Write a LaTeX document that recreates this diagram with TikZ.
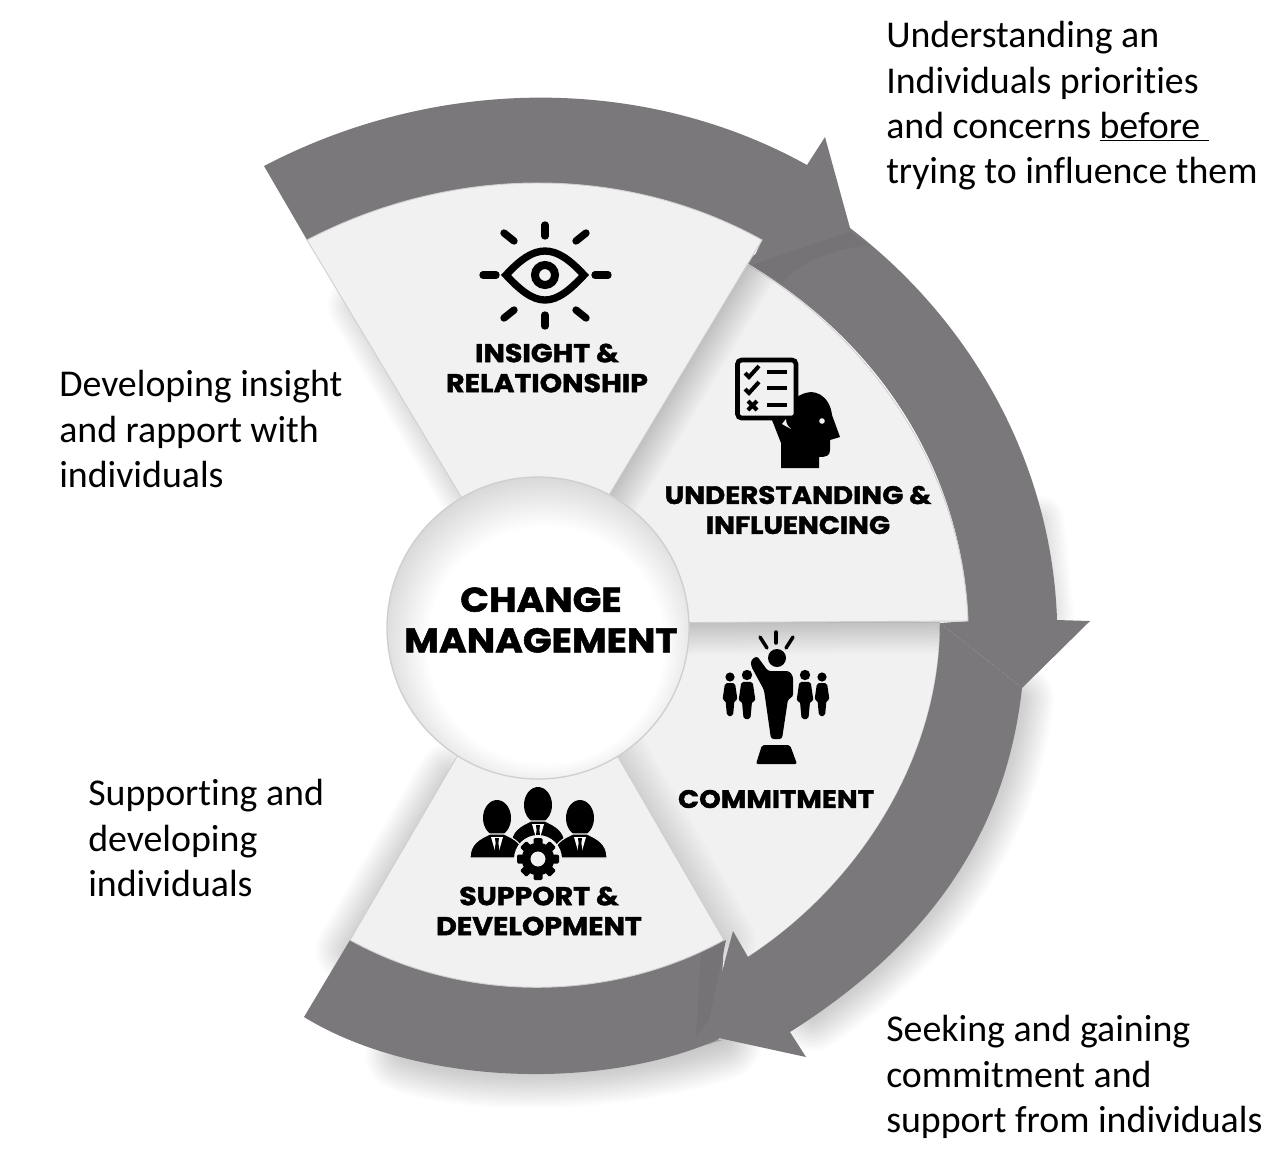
\documentclass[tikz,border=0pt]{standalone}
\usepackage{xcolor}
\usepackage{fontspec}
\setmainfont[Ligatures=NoCommon]{Carlito}
\newfontfamily\blackfont[FakeStretch=1.1,BoldFeatures={FakeBold=1.6}]{Poppins}
\definecolor{bandgrey}{HTML}{7A787A}
\definecolor{banddark}{HTML}{757375}
\definecolor{wedgegrey}{HTML}{F1F1F2}
\definecolor{edgegrey}{HTML}{CFCFCF}
\definecolor{rimgrey}{HTML}{CFCFCF}
\pgfdeclareradialshading{rimshade}{\pgfpoint{2bp}{-4.5bp}}{color(0bp)=(white); color(19.5bp)=(white); color(29bp)=(rimgrey); color(50bp)=(rimgrey)}
\tikzset{
  band/.style={fill=bandgrey},
  wedge/.style={fill=wedgegrey,draw=edgegrey,line width=0.7},
  bodytext/.style={anchor=north west,inner sep=0,align=left,font=\fontsize{28.4}{34.1}\selectfont},
  wedgelabel/.style={inner sep=0,align=center,font=\blackfont\bfseries\fontsize{19.4}{22.5}\selectfont},
  widelabel/.style={inner sep=0,align=center,font=\blackfont\bfseries\fontsize{18.9}{22.5}\selectfont},
  ray/.style={line width=5.5,line cap=round},
  person/.pic={
    \fill (0,0) circle (4.6);
    \fill[rounded corners=1.5] (-5,6) -- (5,6) -- (7.5,23) -- (4.5,23) -- (3,39) -- (-3,39) -- (-4.5,23) -- (-7.5,23) -- cycle;
  },
  suit/.pic={
    \fill (0,0) ellipse (14 and 18);
    \fill[draw=wedgegrey,line width=0.8] (-27,40) .. controls (-27,26) and (-18,21) .. (-7,16) -- (7,16) .. controls (18,21) and (27,26) .. (27,40) -- cycle;
    \fill[white] (-6,19) -- (6,19) -- (2,33) -- (-2,33) -- cycle;
    \fill (-2,20) -- (2,20) -- (1.4,25) -- (2.5,34) -- (0,38) -- (-2.5,34) -- (-1.4,25) -- cycle;
  }
}
\newcommand{\softshadow}[3]{\foreach \w in {3,6,...,#2} {\path[fill=black,draw=black,opacity=#3,line width=\w,line join=round] #1;}}
\newcommand{\wedgeone}{(307,240) .. controls (453,164) and (625,164) .. (762,240) -- (564,570) -- (505,570) -- cycle}
\newcommand{\wedgetwo}{(740,260) .. controls (872,335) and (963,472) .. (968,621) -- (600,623) -- (560,575) -- cycle}
\newcommand{\wedgethree}{(600,622) -- (940,622) .. controls (940,757) and (860,884) .. (748,957) -- (722,962) -- (560,720) -- cycle}
\newcommand{\wedgefour}{(350,940) .. controls (464,1003) and (610,1003) .. (724,940) -- (585,700) -- (490,700) -- cycle}
\begin{document}
\begin{tikzpicture}[x=0.75pt,y=0.75pt,yscale=-1,xscale=1,every pic/.style={yscale=-1}]
\useasboundingbox (0,0) rectangle (1280,1158);

%Shadows outside the wheel
\begin{scope}
\clip (0,0) rectangle (1280,1158);
\softshadow{(405,1052) .. controls (470,1075) and (610,1076) .. (722,1040) -- cycle}{60}{0.011}
\softshadow{(450,775) -- (348,950) -- (420,950) -- (490,775) -- cycle}{48}{0.011}
\softshadow{(356,305) -- (464,490) -- (500,480) -- (400,305) -- cycle}{42}{0.011}
\softshadow{(1018,700) .. controls (1000,842) and (916,945) .. (812,1015) -- (800,960) -- (960,760) -- cycle}{54}{0.012}
\softshadow{(1040,520) -- (1050,612) -- (1010,612) -- (1010,520) -- cycle}{36}{0.01}
\end{scope}

%Shape: Wedge three
\draw [wedge] \wedgethree ;
\begin{scope}
\clip \wedgethree ;
\softshadow{\wedgetwo}{48}{0.012}
\softshadow{\wedgefour}{48}{0.009}
\end{scope}
%Shape: Band four
\draw [band,draw=none] (304,1017) .. controls (415,1085) and (600,1092) .. (719,1039) -- (724,940) .. controls (610,1003) and (464,1003) .. (350,940) -- cycle ;
\fill [banddark] (701,953) -- (726,940) -- (709,1020) -- (696,1037) -- cycle ;
%Shape: Wedge four
\draw [wedge] \wedgefour ;
%Shape: Band three with its head
\draw [band,draw=none] (940,623) .. controls (940,757) and (860,884) .. (748,957) -- (733,931) -- (705,1035) -- (806,1057) -- (790,1032) .. controls (921,949) and (1005,842) .. (1022,688) -- cycle ;
%Shape: Band two with its head
\draw [band,draw=none] (745,262) -- (800,220) -- (850,228) .. controls (973,322) and (1052,465) .. (1057,620) -- (1090,621) -- (1022,688) -- (940,623) -- (968,621) .. controls (963,472) and (880,341) .. (745,262) -- cycle ;
\fill [banddark] (752,265) -- (850,232) -- (868,245) .. controls (830,250) and (800,262) .. (782,283) -- cycle ;
%Shape: Wedge two
\draw [wedge] \wedgetwo ;
\begin{scope}
\clip \wedgetwo ;
\softshadow{\wedgeone}{48}{0.012}
\end{scope}
%Shape: Band one with its head
\draw [band,draw=none] (264,166) .. controls (438,75) and (645,75) .. (807,165) -- (825,137) -- (850,228) -- (752,262) -- (762,240) .. controls (625,164) and (453,164) .. (307,240) -- cycle ;
%Shape: Wedge one
\draw [wedge] \wedgeone ;

%Shape: Centre circle
\shade [shading=rimshade] (538,628) circle (151) ;
\draw [edgegrey,line width=1] (538,628) circle (151) ;

%Eye icon
\foreach \a/\b/\c/\d in {545/225/545/236, 545/315/545/326, 483/275/496/275, 595/275/608/275, 504/233/514/241, 586/233/576/241, 504/318/514/310, 586/318/576/310} {\draw [ray] (\a,\b) -- (\c,\d) ;}
\draw [line width=5.5] (506,275) .. controls (520,260) and (532,251) .. (545,251) .. controls (558,251) and (570,260) .. (584,275) .. controls (570,290) and (558,300) .. (545,300) .. controls (532,300) and (520,290) .. (506,275) -- cycle ;
\draw [line width=6] (545,275) circle (10) ;

%Thinking head icon
\fill (797,397) .. controls (815,385) and (830,397) .. (832,415) -- (840,437) -- (830,440) -- (830,450) .. controls (830,456) and (826,457) .. (819,457) -- (819,468) -- (781,468) -- (781,443) -- (772,420) -- cycle ;
\fill [wedgegrey] (822,421) circle (2.8) ;
\draw [fill=wedgegrey,line width=3.5,rounded corners=3] (737.5,360) rectangle (796,418) ;
\fill [wedgegrey] (786,419) .. controls (786,424) and (788,426) .. (791,429) -- (782,424) -- cycle ;
\draw [line width=3] (745,373) -- (749,377) -- (759,366) ;
\draw [line width=3] (745,389) -- (749,393) -- (759,382) ;
\draw [line width=3] (748,401) -- (757,410) (757,401) -- (748,410) ;
\foreach \y in {372,388,405} {\draw [line width=3] (767,\y) -- (787,\y) ;}

%Leader and followers icon
\foreach \a/\b/\c/\d in {776/632/776/643, 760/637/767/648, 793/637/786/648} {\draw [line width=2.6,line cap=round] (\a,\b) -- (\c,\d) ;}
\fill (777,658) circle (9) ;
\fill [rounded corners=2] (751,660) -- (757,656) -- (768,671) -- (789,671) -- (793,676) -- (793,697) -- (788,699) -- (782,739) -- (771,739) -- (764,690) -- (751,666) -- cycle ;
\fill [rounded corners=1.5] (762,745) -- (790,745) -- (797,764) -- (756,764) -- cycle ;
\pic at (730,677) {person};
\pic [scale=1.13] at (747,675) {person};
\pic [scale=1.13] at (805,675) {person};
\pic at (822,677) {person};

%Team icon
\pic at (538,805) {suit};
\pic at (497,818) {suit};
\pic at (580,818) {suit};
\fill [wedgegrey] (538,859) circle (24) ;
\foreach \a in {0,45,...,315} {\fill [rotate around={\a:(538,859)},rounded corners=1] (533.5,838) rectangle (542.5,850) ;}
\draw [line width=6.5] (538,859) circle (12) ;

% Text Node
\node [wedgelabel] (insightlabel) at (547,368) {INSIGHT \&\\RELATIONSHIP};
% Text Node
\node [widelabel] (understandinglabel) at (798,510) {UNDERSTANDING \&\\INFLUENCING};
% Text Node
\node [widelabel] (commitmentlabel) at (776,799) {COMMITMENT};
% Text Node
\node [wedgelabel] (supportlabel) at (539,911) {SUPPORT \&\\DEVELOPMENT};
% Text Node
\node [wedgelabel,font=\blackfont\bfseries\fontsize{25.7}{30.5}\selectfont] (changelabel) at (541,620) {CHANGE\\MANAGEMENT};

% Text Node
\node [bodytext] (understandtext) at (886,21) {Understanding an\\Individuals priorities\\and concerns \underline{before\ }\\trying to influence them};
% Text Node
\node [bodytext] (insighttext) at (59,370) {Developing insight\\and rapport with\\individuals};
% Text Node
\node [bodytext] (supporttext) at (88,779) {Supporting and\\developing\\individuals};
% Text Node
\node [bodytext] (seekingtext) at (886,1015) {Seeking and gaining\\commitment and\\support from individuals};
\end{tikzpicture}
\end{document}
